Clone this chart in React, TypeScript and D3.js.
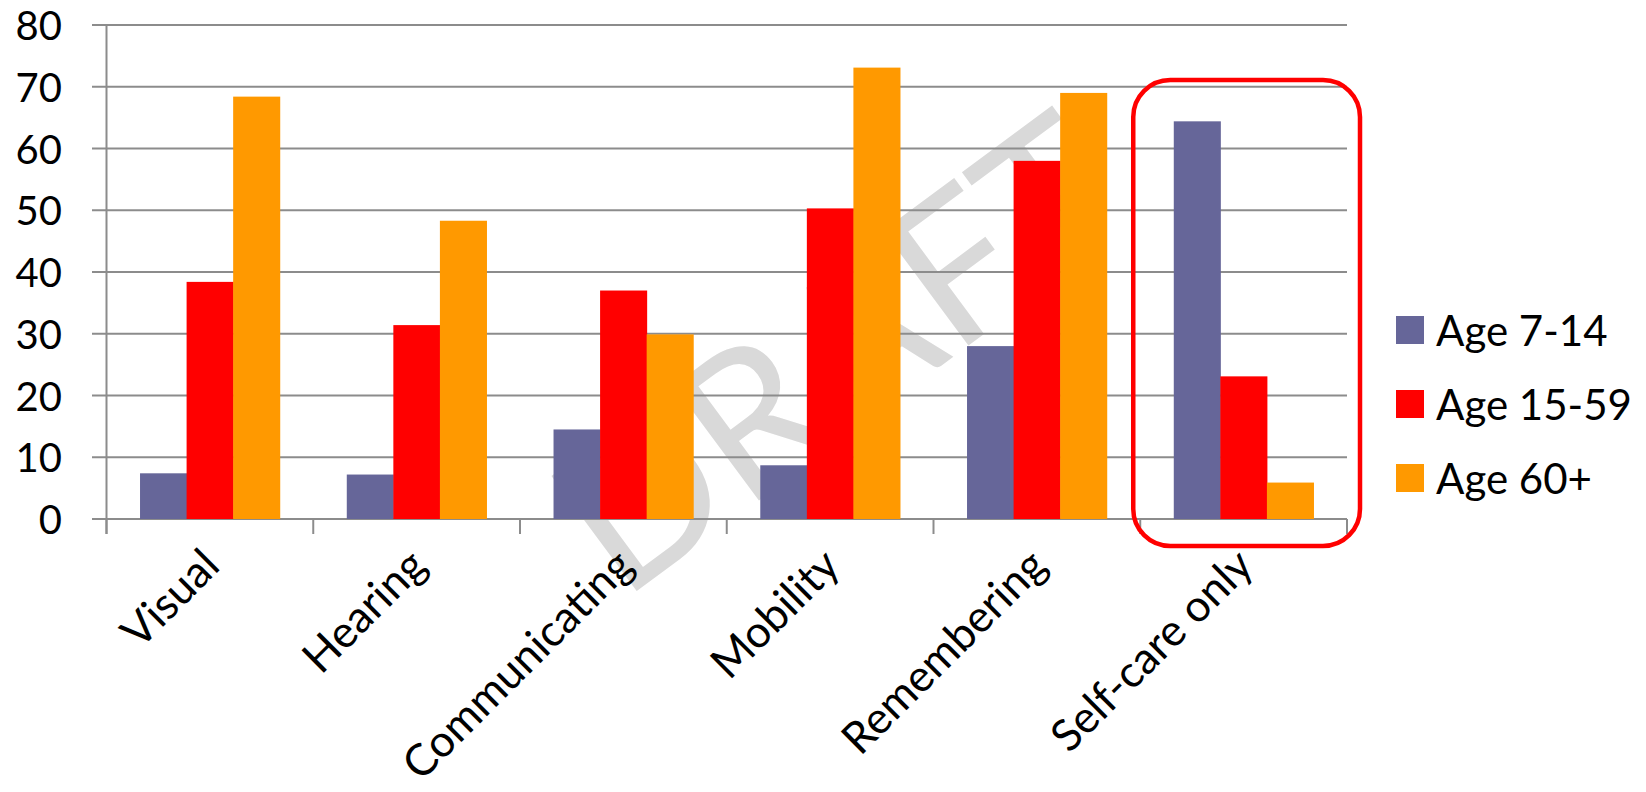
import React from "react";
import * as d3 from "d3";

const categories = ["Visual", "Hearing", "Communicating", "Mobility", "Remembering", "Self-care only"];
const seriesNames = ["Age 7-14", "Age 15-59", "Age 60+"];
const age7to14 = [7.4, 7.2, 14.5, 8.7, 28.0, 64.4];
const age15to59 = [38.4, 31.4, 37.0, 50.3, 58.0, 23.1];
const age60plus = [68.4, 48.3, 29.9, 73.1, 69.0, 5.9];
const seriesColors = ["#666699", "#ff0000", "#ff9900"];
const yTicks = [0, 10, 20, 30, 40, 50, 60, 70, 80];

const W = 1646;
const H = 792;
const FONT = "Lato, 'Open Sans', sans-serif";

export default function App() {
  const seriesValues = [age7to14, age15to59, age60plus];
  const x = d3.scaleBand<string>().domain(categories).range([106.5, 1347]).paddingInner(0).paddingOuter(0);
  const y = d3.scaleLinear().domain([0, 80]).range([519, 25]);
  const inner = d3
    .scaleBand<string>()
    .domain(seriesNames)
    .range([0, x.bandwidth()])
    .paddingInner(0)
    .paddingOuter(0.72);

  const boundaries = categories.map((c) => x(c) as number).concat([x.range()[1]]);
  const last = categories[categories.length - 1];
  const boxX0 = (x(last) as number) - 7;
  const boxX1 = (x(last) as number) + x.bandwidth() + 13;

  return (
    <svg width={W} height={H} style={{ display: "block", position: "absolute", left: 0, top: 0 }}>
      <rect x={0} y={0} width={W} height={H} fill="#ffffff" />
      {/* watermark */}
      <text
        x={0}
        y={0}
        transform={`translate(622,602) rotate(-36.5)`}
        textAnchor="start"
        fontFamily={FONT}
        fontSize={200}
        fontWeight={400}
        fill="#d9d9d9"
      >
        DRAFT
      </text>
      {/* gridlines */}
      {yTicks.map((t) => (
        <line key={t} x1={92} x2={x.range()[1]} y1={y(t)} y2={y(t)} stroke="#8c8c8c" strokeWidth={2} />
      ))}
      {/* y axis */}
      <line x1={106.5} x2={106.5} y1={y(80)} y2={y(0) + 15} stroke="#8c8c8c" strokeWidth={2} />
      {boundaries.map((b, i) => (
        <line key={i} x1={b} x2={b} y1={y(0)} y2={y(0) + 15} stroke="#8c8c8c" strokeWidth={2} />
      ))}
      {yTicks.map((t) => (
        <text
          key={t}
          x={62}
          y={y(t)}
          textAnchor="end"
          dominantBaseline="central"
          fontFamily={FONT}
          fontSize={40}
          fill="#000"
        >
          {t}
        </text>
      ))}
      {/* bars */}
      {categories.map((c, ci) =>
        seriesNames.map((s, si) => {
          const v = seriesValues[si][ci];
          const bx = (x(c) as number) + (inner(s) as number);
          return (
            <rect
              key={c + s}
              x={bx}
              y={y(v)}
              width={inner.bandwidth() + 0.5}
              height={y(0) - y(v)}
              fill={seriesColors[si]}
            />
          );
        })
      )}
      {/* category labels */}
      {categories.map((c) => {
        const cx = (x(c) as number) + x.bandwidth() / 2 + 12;
        return (
          <text
            key={c}
            transform={`translate(${cx},568) rotate(-45)`}
            textAnchor="end"
            fontFamily={FONT}
            fontSize={44}
            fill="#000"
          >
            {c}
          </text>
        );
      })}
      {/* highlight box */}
      <rect
        x={boxX0}
        y={80}
        width={boxX1 - boxX0}
        height={466}
        rx={37}
        ry={37}
        fill="none"
        stroke="#ff0000"
        strokeWidth={4.5}
      />
      {/* legend */}
      {seriesNames.map((s, i) => {
        const cy = 330 + i * 74;
        return (
          <g key={s}>
            <rect x={1396} y={cy - 14} width={28} height={28} fill={seriesColors[i]} />
            <text x={1436} y={cy} dominantBaseline="central" fontFamily={FONT} fontSize={42} fill="#000">
              {s}
            </text>
          </g>
        );
      })}
    </svg>
  );
}
